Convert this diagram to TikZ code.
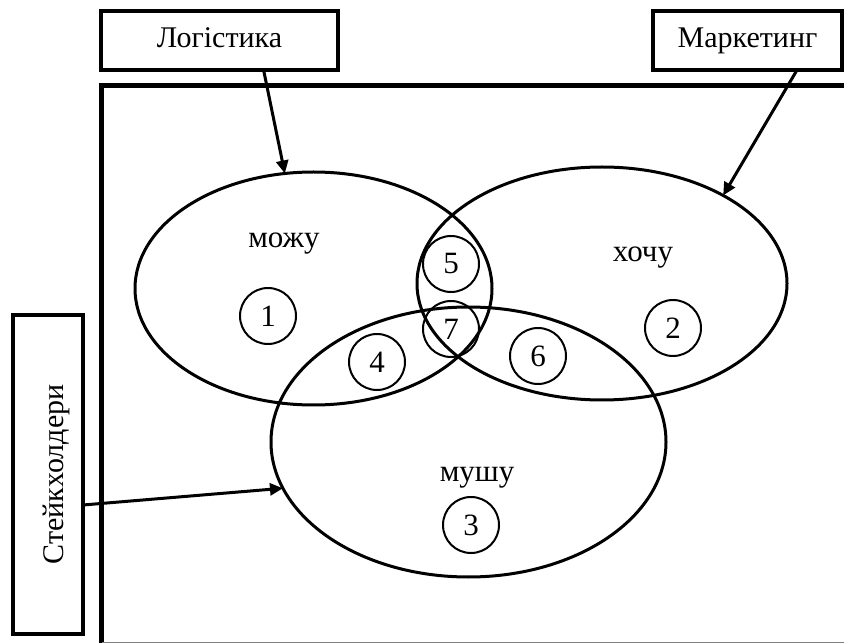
\documentclass[tikz,border=0pt]{standalone}
\usepackage{fontspec}
\setmainfont{Liberation Serif}
\usetikzlibrary{shapes.geometric,arrows.meta,calc}
\begin{document}
\begin{tikzpicture}[x=1pt,y=-1pt,
  lbox/.style={draw,line width=3.5pt,inner sep=0pt,outer sep=0pt,minimum height=59pt,
    text height=21pt,text depth=6pt,font=\fontsize{30}{36}\selectfont},
  venn/.style={draw,ellipse,line width=3pt,inner sep=0pt,outer sep=0pt},
  num/.style={draw,circle,line width=2pt,minimum size=56pt,inner sep=0pt,font=\fontsize{31}{36}\selectfont},
  word/.style={anchor=base,inner sep=0pt,font=\fontsize{31}{36}\selectfont},
  arr/.style={-{Triangle[length=13pt,width=12pt]},line width=3pt}]
\useasboundingbox (0,0) rectangle (844,644);
% frame
\draw[line width=4.5pt] (101.5,643) -- (101.5,85.5) -- (850,85.5);
\draw[line width=1.5pt,gray] (101.5,642.5) -- (850,642.5);
% label boxes
\node[lbox,minimum width=237pt] (log) at (219.5,40.5) {Логістика};
\node[lbox,minimum width=189pt] (mkt) at (747.5,40.5) {Маркетинг};
\node[lbox,minimum width=319pt,minimum height=70pt,rotate=90,text height=30pt,text depth=0pt] (stake) at (48,474.5) {Стейкхолдери};
% ellipses
\node[venn,minimum width=357pt,minimum height=233pt] (can) at (313.5,288.5) {};
\node[venn,minimum width=370pt,minimum height=233pt] (want) at (602,283.5) {};
\node[venn,minimum width=395pt,minimum height=270pt] (must) at (468.5,442) {};
% words
\node[word] (wcan) at (284,248) {можу};
\node[word] (wwant) at (643,262) {хочу};
\node[word] (wmust) at (477,482) {мушу};
% numbered circles
\node[num] (n1) at (268,316) {1};
\node[num] (n2) at (673,328) {2};
\node[num] (n3) at (471,525) {3};
\node[num] (n4) at (377,362) {4};
\node[num] (n5) at (451,264) {5};
\node[num] (n6) at (538,356) {6};
\node[num] (n7) at (451,329) {7};
% arrows
\draw[arr] ($(log.south west)!0.686!(log.south east)$) -- (can.104.8);
\draw[arr] ($(mkt.south west)!0.762!(mkt.south east)$) -- (want.36.3);
\draw[arr] ($(stake.south)+(0,30.5)$) -- (must.194.1);
\end{tikzpicture}
\end{document}
